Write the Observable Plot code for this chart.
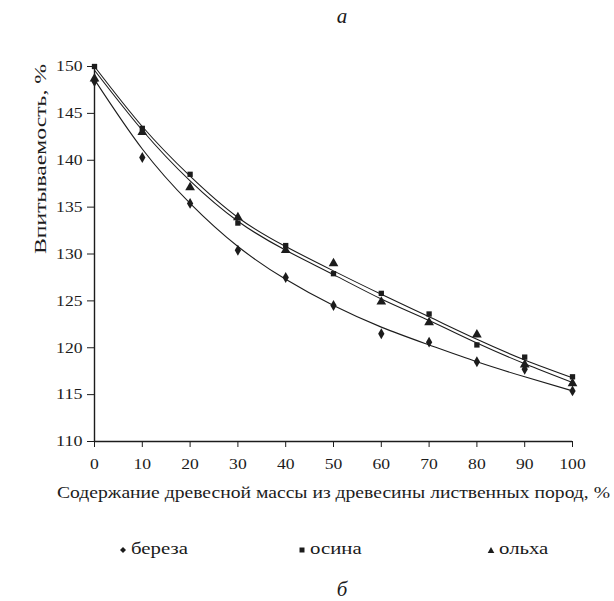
<!DOCTYPE html>
<html><head><meta charset="utf-8">
<script src="https://cdn.jsdelivr.net/npm/d3@7"></script>
<script src="https://cdn.jsdelivr.net/npm/@observablehq/plot@0.6"></script>
<style>
html,body{margin:0;padding:0;background:#fff;}
#wrap{position:relative;width:614px;height:601px;overflow:hidden;font-family:"Liberation Serif","DejaVu Serif",serif;color:#1a1a1a;}
#chart{position:absolute;left:0;top:0;}
#chart svg, #chart svg text{font-family:"Liberation Serif","DejaVu Serif",serif !important;}
.cap{position:absolute;font-style:italic;font-size:21px;width:40px;text-align:center;line-height:1;}
#legend{position:absolute;left:0;top:540px;width:614px;height:22px;font-size:16px;}
.li{position:absolute;top:0;white-space:nowrap;}
.li svg{position:absolute;top:6px;}
.li span{position:absolute;left:12px;top:0;display:inline-block;transform:scaleX(1.3);transform-origin:left center;}
</style></head>
<body>
<div id="wrap">
  <div id="chart"></div>
  <div class="cap" id="capA" style="left:322px;top:6px;">а</div>
  <div id="legend"></div>
  <div class="cap" id="capB" style="left:322px;top:579px;">б</div>
</div>
<script>
// ---- data ----
const content = [0, 10, 20, 30, 40, 50, 60, 70, 80, 90, 100];
const seriesNames = ["береза", "осина", "ольха"];
const berezaPts = [148.4, 140.3, 135.4, 130.4, 127.5, 124.5, 121.5, 120.6, 118.5, 117.7, 115.4];
const osinaPts  = [150.0, 143.4, 138.5, 133.3, 130.9, 127.9, 125.8, 123.6, 120.3, 119.0, 116.9];
const olkhaPts  = [148.7, 143.0, 137.1, 133.9, 130.4, 129.0, 124.9, 122.7, 121.4, 118.2, 116.2];
// trend curves
const berezaFit = [148.6, 141.2, 135.4, 130.8, 127.3, 124.5, 122.2, 120.3, 118.5, 116.9, 115.4];
const osinaFit  = [150.0, 143.6, 138.3, 133.9, 130.8, 128.2, 125.7, 123.3, 120.9, 118.7, 116.8];
const olkhaFit  = [149.6, 143.2, 137.8, 133.5, 130.4, 127.8, 125.2, 122.9, 120.5, 118.3, 116.3];
const xTicks = [0, 10, 20, 30, 40, 50, 60, 70, 80, 90, 100];
const yTicks = [110, 115, 120, 125, 130, 135, 140, 145, 150];
const yLabel = "Впитываемость, %";
const xLabel = "Содержание древесной массы из древесины лиственных пород, %";

const ink = "#1c1c1c";
const serif = "'Liberation Serif', 'DejaVu Serif', serif";
const rows = (name, ys) => content.map((x, i) => ({x, y: ys[i], s: name}));
const fitRows = [...rows("береза", berezaFit), ...rows("осина", osinaFit), ...rows("ольха", olkhaFit)];

const chart = Plot.plot({
  width: 614, height: 515,
  marginTop: 66, marginLeft: 94, marginRight: 42, marginBottom: 74,
  x: {domain: [0, 100]},
  y: {domain: [110, 150]},
  style: {fontFamily: serif, fontSize: "15px", color: ink, background: "transparent", overflow: "visible"},
  marks: [
    Plot.axisX({ticks: xTicks, tickSize: 6, tickPadding: 11, label: null, tickFormat: d => String(d), stroke: ink, fontFamily: serif}),
    Plot.axisY({ticks: yTicks, tickSize: 7, tickPadding: 5, label: null, tickFormat: d => String(d), stroke: ink, fontFamily: serif}),
    Plot.ruleX([0], {stroke: ink, strokeWidth: 1.4}),
    Plot.ruleY([110], {stroke: ink, strokeWidth: 1.4}),
    Plot.line(fitRows, {x: "x", y: "y", z: "s", curve: "natural", stroke: ink, strokeWidth: 1.1}),
    Plot.dot(rows("береза", berezaPts), {x: "x", y: "y", symbol: "diamond", r: 3.3, fill: ink}),
    Plot.dot(rows("осина", osinaPts), {x: "x", y: "y", symbol: "square", r: 3, fill: ink}),
    Plot.dot(rows("ольха", olkhaPts), {x: "x", y: "y", symbol: "triangle", r: 3.6, fill: ink}),
    Plot.text([yLabel], {frameAnchor: "left", dx: -54, rotate: -90, fontSize: 16, fill: ink, fontFamily: serif}),
    Plot.text([xLabel], {frameAnchor: "bottom", dy: 56, fontSize: 16, fill: ink, fontFamily: serif})
  ]
});
chart.querySelectorAll("text").forEach(t => {
  const s = t.textContent;
  if (s === xLabel) { t.setAttribute("textLength", 553); t.setAttribute("lengthAdjust", "spacingAndGlyphs"); }
  else if (s === yLabel) { t.setAttribute("textLength", 190); t.setAttribute("lengthAdjust", "spacingAndGlyphs"); }
  else if (/^\d+$/.test(s)) { t.setAttribute("textLength", s.length * 8.8); t.setAttribute("lengthAdjust", "spacingAndGlyphs"); }
});
document.getElementById("chart").appendChild(chart);

// legend
const legendPos = [119, 298, 487];
const symbolPaths = {
  "береза": "M4,1 L7,4 L4,7 L1,4 Z",
  "осина": "M1.5,1.5 H6.5 V6.5 H1.5 Z",
  "ольха": "M4,1 L7.3,7 H0.7 Z"
};
const legend = document.getElementById("legend");
seriesNames.forEach((n, i) => {
  const d = document.createElement("div");
  d.className = "li";
  d.style.left = legendPos[i] + "px";
  d.innerHTML = `<svg width="8" height="8"><path d="${symbolPaths[n]}" fill="${ink}"/></svg><span>${n}</span>`;
  legend.appendChild(d);
});
</script>
</body></html>
